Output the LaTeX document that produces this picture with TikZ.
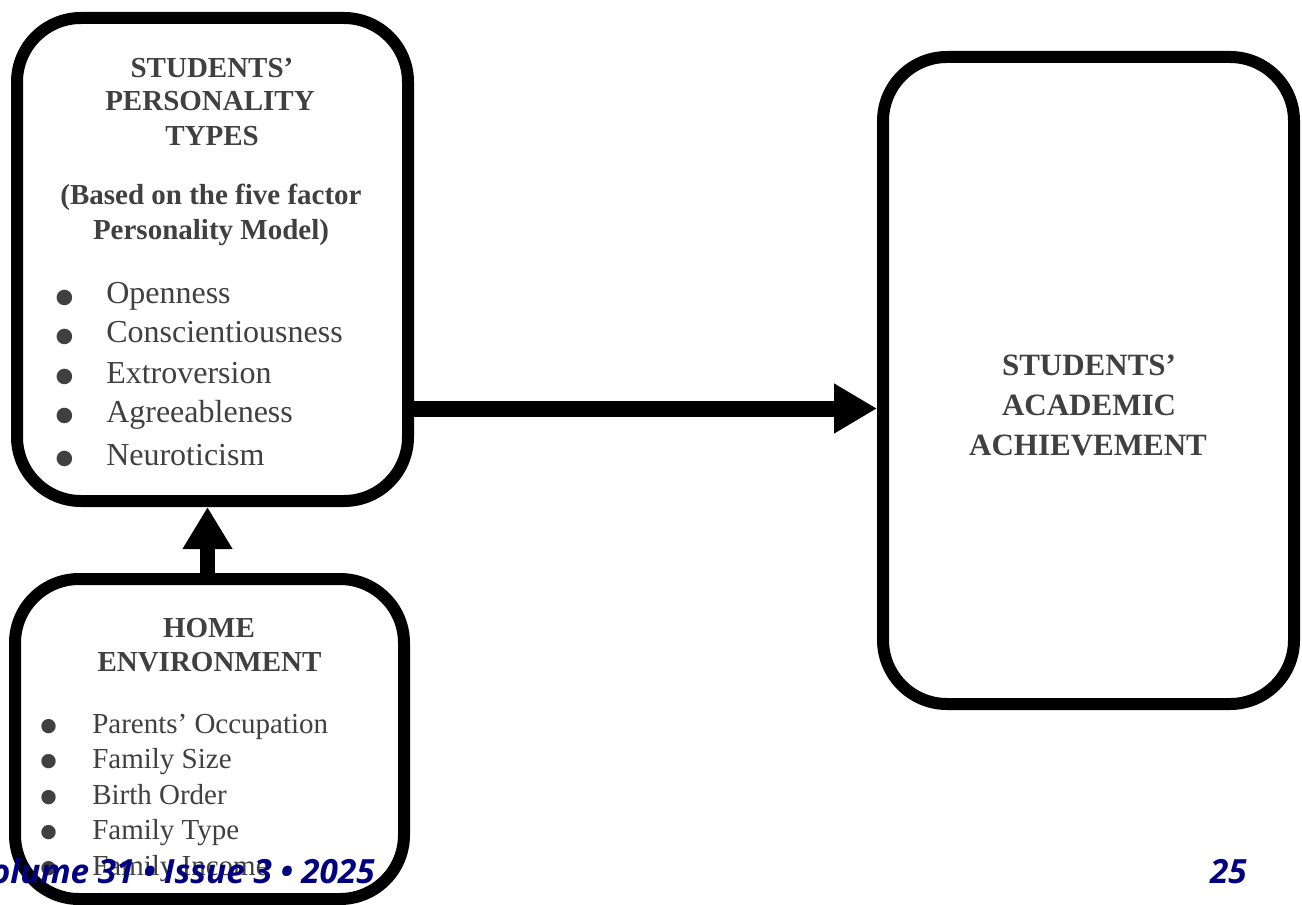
\documentclass[tikz,border=0pt]{standalone}
\usepackage{fontspec}
\setmainfont{Liberation Serif}
\newfontfamily\footfont{Open Sans}
\usetikzlibrary{arrows.meta}
\definecolor{txtgray}{RGB}{64,64,64}
\definecolor{footnavy}{RGB}{0,0,128}
\begin{document}
\begin{tikzpicture}[x=0.75pt,y=-0.75pt,
  box/.style={draw=black,line width=9pt,rounded corners=48pt,fill=white,inner sep=0pt,outer sep=4.5pt},
  ttl/.style={anchor=base,inner sep=0pt,text=txtgray,font=\fontsize{21.75pt}{26pt}\selectfont\bfseries},
  bigttl/.style={anchor=base,inner sep=0pt,text=txtgray,font=\fontsize{23.25pt}{28pt}\selectfont\bfseries},
  itemA/.style={anchor=base west,inner sep=0pt,text=txtgray,font=\fontsize{24pt}{28pt}\selectfont},
  itemB/.style={anchor=base west,inner sep=0pt,text=txtgray,font=\fontsize{21.75pt}{26pt}\selectfont},
  bulA/.style={anchor=base,inner sep=0pt,text=txtgray,font=\fontsize{48.75pt}{50pt}\selectfont,yshift=-11.8pt},
  bulB/.style={anchor=base,inner sep=0pt,text=txtgray,font=\fontsize{45pt}{46pt}\selectfont,yshift=-9.75pt},
  foot/.style={inner sep=0pt,text=footnavy,font=\footfont\bfseries\itshape\fontsize{25pt}{30pt}\selectfont},
  bigarrow/.style={draw=black}
]
\useasboundingbox (0,0) rectangle (1302,905);
% boxes
\node[box,minimum width=293.25pt,minimum height=362.25pt] (pers) at (212.5,259.5) {};
\node[box,minimum width=291.75pt,minimum height=240pt] (home) at (209.5,739) {};
\node[box,minimum width=308.25pt,minimum height=485.25pt] (ach) at (1088.5,380.5) {};
% helper coordinates
\coordinate (hy) at (0,408.5);
\coordinate (vx) at (207.5,0);
% arrows
\draw[bigarrow,line width=12pt,-{Triangle[length=32.25pt,width=35.25pt]}] (pers.east |- hy) -- (ach.west |- hy);
\draw[bigarrow,line width=11.25pt,-{Triangle[length=31.5pt,width=35.25pt]}] (home.north -| vx) -- (pers.south -| vx);
% box 1 text
\node[ttl] (p1) at (212,78) {STUDENTS’};
\node[ttl] (p2) at (210,111) {PERSONALITY};
\node[ttl] (p3) at (212,146) {TYPES};
\node[ttl] (p4) at (211,205) {(Based on the five factor};
\node[ttl] (p5) at (211,240) {Personality Model)};
\node[bulA] (pb1) at (65,304) {•};
\node[itemA] (pi1) at (106,304) {Openness};
\node[bulA] (pb2) at (65,343) {•};
\node[itemA] (pi2) at (106,343) {Conscientiousness};
\node[bulA] (pb3) at (65,383) {•};
\node[itemA] (pi3) at (106,383) {Extroversion};
\node[bulA] (pb4) at (65,422) {•};
\node[itemA] (pi4) at (106,422) {Agreeableness};
\node[bulA] (pb5) at (65,465) {•};
\node[itemA] (pi5) at (106,465) {Neuroticism};
% box 2 text
\node[ttl] (h1) at (209,637) {HOME};
\node[ttl] (h2) at (209.5,671) {ENVIRONMENT};
\node[bulB] (hb1) at (49,733) {•};
\node[itemB] (hi1) at (92,733) {Parents’ Occupation};
\node[bulB] (hb2) at (49,768) {•};
\node[itemB] (hi2) at (92,768) {Family Size};
\node[bulB] (hb3) at (49,804) {•};
\node[itemB] (hi3) at (92,804) {Birth Order};
\node[bulB] (hb4) at (49,839) {•};
\node[itemB] (hi4) at (92,839) {Family Type};
\node[bulB] (hb5) at (49,875) {•};
\node[itemB] (hi5) at (92,875) {Family Income};
% box 3 text
\node[bigttl] (a1) at (1089,375) {STUDENTS’};
\node[bigttl] (a2) at (1089,415) {ACADEMIC};
\node[bigttl] (a3) at (1088,455) {ACHIEVEMENT};
% footer
\node[foot,anchor=base east] (vol) at (375,883) {Volume 31 • Issue 3 • 2025};
\node[foot,anchor=base east] (pg) at (1247,883) {25};
\end{tikzpicture}
\end{document}
